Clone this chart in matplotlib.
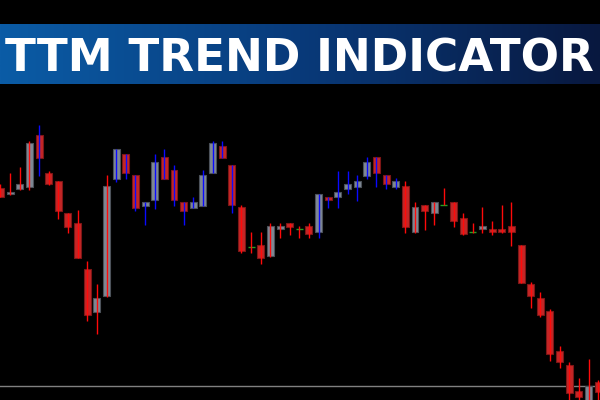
import numpy as np
import matplotlib
matplotlib.use("Agg")
import matplotlib.pyplot as plt
from matplotlib.colors import LinearSegmentedColormap

# price readings per candle (arbitrary price units)
opens = [212, 206, 211, 213, 265, 227, 219, 187, 177, 131, 88, 104, 221, 246, 225, 194,
         200, 243, 230, 198, 192, 194, 227, 254, 235, 193, 153, 155, 144, 171, 177, 171,
         174, 168, 203, 203, 211, 213, 224, 243, 225, 213, 214, 168, 195, 187, 195, 198,
         182, 168, 171, 171, 171, 174, 155, 116, 102, 89, 49, 35, 9, -5, 18]
closes = [203, 208, 216, 257, 242, 216, 189, 173, 142, 85, 102, 214, 251, 227, 192, 198,
          238, 221, 200, 189, 198, 225, 257, 242, 195, 149, 153, 142, 174, 174, 173, 171,
          166, 206, 200, 208, 216, 219, 238, 227, 216, 219, 173, 193, 189, 198, 195, 179,
          166, 168, 174, 168, 168, 168, 117, 104, 85, 46, 38, 7, 3, 14, 8]
highs = [216, 227, 233, 259, 275, 229, 219, 187, 190, 139, 116, 225, 251, 246, 225, 198,
         246, 251, 235, 198, 203, 230, 259, 259, 235, 195, 168, 168, 177, 177, 177, 174,
         177, 206, 203, 229, 229, 225, 243, 243, 225, 222, 219, 198, 195, 198, 212, 198,
         187, 177, 193, 179, 195, 198, 155, 118, 108, 91, 54, 38, 22, 41, 20]
lows = [203, 205, 210, 210, 224, 215, 181, 167, 142, 79, 66, 103, 218, 221, 189, 175,
        191, 221, 194, 175, 192, 194, 227, 242, 187, 147, 147, 136, 143, 162, 165, 162,
        162, 162, 192, 192, 206, 199, 221, 213, 211, 211, 167, 167, 170, 175, 195, 173,
        165, 167, 167, 165, 167, 154, 117, 92, 83, 39, 32, 0, -3, -5, -2]
# TTM trend state shown by the wick colour: r = down, b = up
trend = (["r"] * 4 + ["b"] + ["r"] * 7 + ["b"] * 13 + ["r"] * 8 +
         ["b"] * 9 + ["r"] * 21)
last_level = 14

title = "TTM TREND INDICATOR"

RED_BODY = "#c42626"
RED_EDGE = "#7e1616"
GRAY_BODY = "#7f8894"
GRAY_EDGE = "#4c525a"
WICK = {"r": "#ff0a0a", "b": "#0a0aff"}
DOJI = "#22a022"

fig = plt.figure(figsize=(6, 4), dpi=100, facecolor="black")
ax = fig.add_axes([0, 0, 1, 1], facecolor="black")

x = np.arange(len(opens))
o = np.array(opens, dtype=float)
c = np.array(closes, dtype=float)
w = 0.72

for i in x:
    if c[i] > o[i]:
        ax.bar(i, c[i] - o[i], bottom=o[i], width=w, color=GRAY_BODY,
               edgecolor=GRAY_EDGE, linewidth=0.8, zorder=2)
    elif c[i] < o[i]:
        ax.bar(i, o[i] - c[i], bottom=c[i], width=w, color=RED_BODY,
               edgecolor=RED_EDGE, linewidth=0.8, zorder=2)
    else:
        ax.hlines(o[i], i - w / 2, i + w / 2, color=DOJI, linewidth=1.0, zorder=3)
    ax.vlines(i, lows[i], highs[i], color=WICK[trend[i]], linewidth=1.0, zorder=3)

ax.axhline(last_level, color="#808080", linewidth=1.0, zorder=1)

ax.set_xlim(-0.05, 600 / 9.64 - 0.05)
ax.set_ylim(0, 400)
ax.axis("off")

# title banner with horizontal gradient
bax = fig.add_axes([0, 316 / 400, 1, 60 / 400])
cmap = LinearSegmentedColormap.from_list("banner", ["#0b5ca6", "#083a7a", "#08183f"])
bax.imshow(np.linspace(0, 1, 256)[None, :], cmap=cmap, aspect="auto",
           extent=[0, 1, 0, 1])
bax.set_xlim(0, 1)
bax.set_ylim(0, 1)
bax.axis("off")

t = bax.text(0.4983, 0.5, title, color="white", fontsize=40, fontweight="bold",
             family="DejaVu Sans", ha="center", va="center_baseline")
fig.canvas.draw()
bb = t.get_window_extent()
t.set_fontsize(40 * 589 / bb.width)

fig.savefig("out.png", dpi=100, facecolor="black")
